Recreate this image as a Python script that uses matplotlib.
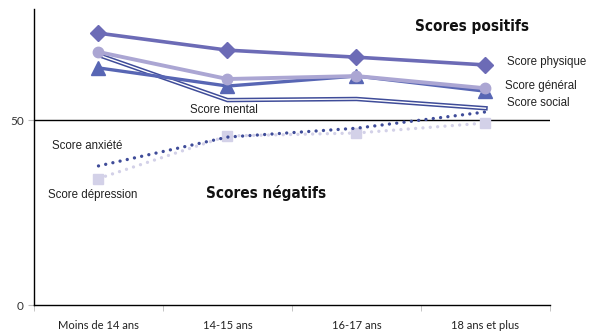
import numpy as np
import matplotlib.pyplot as plt

# Age groups and mean scores per group
ages = ['Moins de 14 ans', '14-15 ans', '16-17 ans', '18 ans et plus']
physique = [73.5, 68.9, 67.0, 64.9]
general = [68.4, 61.1, 61.9, 58.6]
social = [64.1, 59.2, 61.9, 57.8]
mental = [67.6, 55.4, 55.7, 53.2]
anxiete = [37.6, 45.4, 47.8, 52.2]
depression = [34.2, 45.7, 46.5, 49.2]

x = np.arange(len(ages))

fig = plt.figure(figsize=(5.9, 3.31), dpi=100)
ax = fig.add_axes([0.0576, 0.0785, 0.8746, 0.894])

# negative scores: dotted lines
ax.plot(x, depression, color='#D3D1E8', lw=2.4, dashes=(0.01, 2.2),
        dash_capstyle='round', marker='s', ms=6.5, zorder=2)
ax.plot(x, anxiete, color='#3F4C99', lw=2.4, dashes=(0.01, 2.2),
        dash_capstyle='round', zorder=3)

# positive scores
ax.plot(x, mental, color='#3F4C99', lw=3.2, solid_joinstyle='miter', zorder=3)
ax.plot(x, mental, color='white', lw=1.0, solid_joinstyle='miter', zorder=3)
ax.plot(x, social, color='#5866B4', lw=2.4, marker='^', ms=9.5, zorder=4)
ax.plot(x, general, color='#ABA6D3', lw=2.8, marker='o', ms=7.5, zorder=5)
ax.plot(x, physique, color='#6C6BB6', lw=2.6, marker='D', ms=8, zorder=6)

ax.axhline(50, color='black', lw=1.0, zorder=1)

ax.set_xlim(-0.5, 3.5)
ax.set_ylim(0, 80)
ax.set_yticks([0, 50])
ax.set_xticks(x)
ax.set_xticklabels(ages, fontfamily='Lato', fontsize=8, color='#222222')
ax.set_xticks(np.arange(-0.5, 4, 1), minor=True)
ax.tick_params(axis='x', which='major', length=0, pad=11)
ax.tick_params(axis='x', which='minor', length=4, color='#BBBBBB')
ax.tick_params(axis='y', length=4, color='#BBBBBB', labelsize=8.5, labelcolor='#333333')
for lbl in ax.get_yticklabels():
    lbl.set_fontfamily('Lato')

for side in ['top', 'right']:
    ax.spines[side].set_visible(False)
ax.spines['left'].set_linewidth(1.0)
ax.spines['bottom'].set_linewidth(1.0)

lab = dict(fontfamily='Liberation Sans', fontsize=8.3, color='#222222', va='center')
ax.text(3.17, 65.7, 'Score physique', **lab)
ax.text(3.15, 59.2, 'Score général', **lab)
ax.text(3.17, 54.6, 'Score social', **lab)
ax.text(0.71, 52.7, 'Score mental', **lab)
ax.text(-0.36, 43.0, 'Score anxiété', **lab)
ax.text(-0.39, 29.7, 'Score dépression', **lab)

head = dict(fontfamily='DejaVu Sans', fontstretch='condensed', fontsize=11,
            fontweight='bold', color='#111111', va='center')
ax.text(2.45, 75.4, 'Scores positifs', **head)
ax.text(0.83, 30.3, 'Scores négatifs', **head)

fig.savefig('out.png', dpi=100)
